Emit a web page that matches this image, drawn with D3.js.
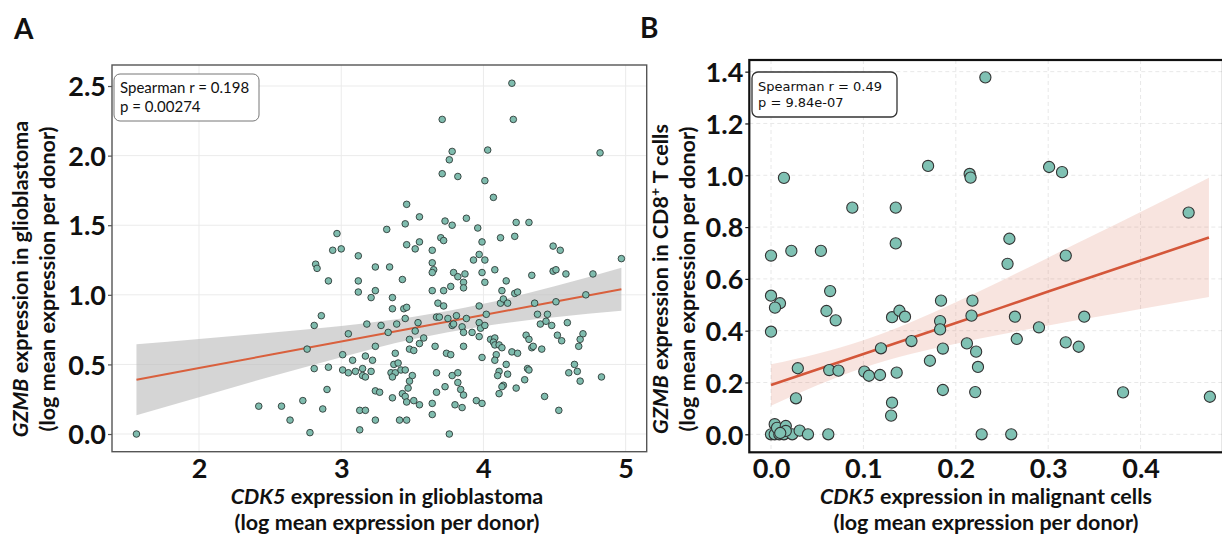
<!DOCTYPE html>
<html lang="en">
<head>
<meta charset="utf-8">
<title>GZMB vs CDK5 expression</title>
<script src="https://d3js.org/d3.v7.min.js"></script>
<style>
  body { margin: 0; background: #fff; }
  svg text { font-family: Lato, "Open Sans", sans-serif; fill: #111; }
  .tick-label { font-size: 27px; font-weight: 700; }
  .axis-title { font-size: 21.5px; font-weight: 700; }
  .panel-letter { font-size: 28px; font-weight: 700; }
</style>
</head>
<body>
<script>

// ---- panel A : glioblastoma (per donor) ----
var aX = [4.20,3.71,4.21,3.78,4.03,3.76,4.82,3.71,3.82,4.01,4.07,3.73,3.78,3.88,3.96,4.23,4.32,3.70,3.72,3.99,
  4.12,4.22,3.64,3.93,3.97,4.01,4.49,4.54,3.64,3.65,3.64,3.79,3.82,3.87,3.86,3.86,3.99,4.01,4.08,4.16,
  4.13,4.22,4.24,4.34,4.49,4.51,4.58,3.64,3.72,3.77,3.68,3.72,3.97,4.12,4.14,4.17,4.36,4.51,3.46,3.55,
  3.45,3.32,2.97,2.94,3.00,3.46,3.55,3.52,3.12,2.82,2.83,3.24,3.34,2.91,3.12,3.43,3.12,3.24,3.21,3.36,
  3.36,3.44,3.46,2.86,2.81,3.18,3.28,3.39,3.45,3.54,3.05,3.33,3.52,3.58,2.76,3.24,3.48,3.55,3.38,3.48,
  3.51,3.01,3.17,3.08,3.22,2.81,2.91,3.01,3.05,3.10,3.15,3.15,3.17,3.21,3.37,3.40,3.35,3.38,3.36,3.42,
  3.45,3.50,3.48,3.47,2.90,3.24,3.27,3.43,3.36,3.45,3.46,3.51,3.55,2.73,2.87,3.13,3.17,2.64,3.24,3.41,
  3.46,2.78,3.13,3.67,3.69,3.75,3.81,3.88,4.02,3.78,3.79,3.85,3.97,3.98,4.01,4.38,4.45,4.40,4.44,4.48,
  3.86,3.92,3.97,4.30,4.32,4.52,4.55,4.05,4.08,4.07,4.08,4.11,4.13,3.66,3.86,4.34,4.35,4.41,3.74,3.77,
  3.99,4.09,4.20,4.24,4.08,4.16,4.31,4.32,3.67,3.78,3.82,4.11,4.10,4.17,4.60,3.82,3.73,4.14,4.13,4.29,
  4.23,3.67,3.84,3.86,4.11,3.95,3.99,4.43,3.64,3.80,3.85,4.53,3.64,3.76,4.77,4.97,4.72,4.59,4.70,4.68,
  4.67,4.64,4.66,4.83,4.68,1.56,2.42,2.58];
var aY = [2.52,2.26,2.26,2.03,2.04,1.97,2.02,1.87,1.85,1.82,1.70,1.53,1.50,1.55,1.48,1.52,1.52,1.41,1.39,1.38,
  1.41,1.42,1.32,1.25,1.29,1.25,1.35,1.32,1.23,1.18,1.16,1.16,1.13,1.15,1.09,1.05,1.16,1.09,1.18,1.10,
  1.03,1.01,1.02,1.14,1.17,1.18,1.15,1.03,1.03,1.06,0.94,0.92,0.92,0.94,0.97,0.94,0.94,0.95,1.65,1.56,
  1.51,1.47,1.44,1.32,1.33,1.36,1.38,1.33,1.28,1.22,1.19,1.20,1.20,1.10,1.10,1.11,1.02,1.03,0.98,0.98,
  0.90,0.90,0.91,0.85,0.78,0.79,0.78,0.79,0.83,0.80,0.72,0.73,0.74,0.69,0.61,0.63,0.68,0.65,0.58,0.61,
  0.60,0.57,0.56,0.53,0.53,0.47,0.48,0.46,0.44,0.45,0.47,0.42,0.41,0.45,0.50,0.51,0.44,0.44,0.41,0.46,
  0.46,0.42,0.38,0.33,0.32,0.31,0.30,0.29,0.26,0.27,0.23,0.24,0.21,0.24,0.18,0.17,0.17,0.10,0.10,0.10,
  0.10,0.01,0.03,0.84,0.84,0.83,0.85,0.83,0.86,0.78,0.79,0.77,0.80,0.76,0.78,0.86,0.86,0.79,0.81,0.78,
  0.73,0.73,0.70,0.71,0.68,0.71,0.67,0.68,0.69,0.66,0.64,0.64,0.62,0.63,0.63,0.62,0.63,0.61,0.58,0.57,
  0.55,0.57,0.59,0.58,0.53,0.50,0.47,0.46,0.44,0.42,0.44,0.45,0.42,0.43,0.44,0.37,0.34,0.35,0.34,0.39,
  0.33,0.30,0.32,0.28,0.29,0.24,0.22,0.27,0.22,0.21,0.19,0.17,0.14,0.00,1.15,1.26,1.00,0.80,0.72,0.68,
  0.63,0.50,0.45,0.41,0.38,0.00,0.20,0.20];
// fitted line and 95% band
var aFitX  = [1.56, 2.0, 2.5, 3.0, 3.5, 4.0, 4.5, 4.97];
var aFitY  = [0.39, 0.474, 0.569, 0.664, 0.76, 0.855, 0.95, 1.04];
var aFitLo = [0.135, 0.265, 0.411, 0.552, 0.68, 0.775, 0.838, 0.885];
var aFitHi = [0.645, 0.683, 0.727, 0.776, 0.84, 0.935, 1.062, 1.195];
var aXTicks = [2, 3, 4, 5];
var aYTicks = [0, 0.5, 1.0, 1.5, 2.0, 2.5];
var aStats = ["Spearman r = 0.198", "p = 0.00274"];

// ---- panel B : malignant cells vs CD8+ T cells ----
var bX = [0.014,0.088,0.135,0.135,0.170,0.0,0.022,0.054,0.232,0.215,0.216,0.301,0.315,0.452,0.258,0.319,0.256,
  0.0,0.0097,0.0043,0.0,0.064,0.060,0.070,0.029,0.063,0.073,0.027,0.101,0.106,0.118,0.119,0.131,0.139,0.145,
  0.152,0.136,0.131,0.130,0.172,0.184,0.218,0.183,0.183,0.217,0.264,0.339,0.290,0.266,0.212,0.222,0.319,
  0.333,0.186,0.224,0.186,0.221,0.381,0.475,0.228,0.260,
  0.0,0.004,0.009,0.014,0.023,0.031,0.040,0.062,0.004,0.0065,0.016,0.016,0.010];
var bY = [0.99,0.875,0.875,0.737,1.036,0.69,0.708,0.708,1.378,1.005,0.991,1.032,1.012,0.856,0.755,0.69,0.658,
  0.535,0.506,0.489,0.396,0.553,0.476,0.44,0.255,0.248,0.246,0.139,0.242,0.226,0.229,0.332,0.452,0.477,0.454,
  0.36,0.238,0.122,0.072,0.284,0.516,0.516,0.437,0.405,0.458,0.454,0.454,0.413,0.368,0.351,0.319,0.355,
  0.338,0.331,0.26,0.171,0.163,0.162,0.145,0.0,0.0,
  0.0,0.0,0.0,0.0,0.0,0.014,0.0,0.0,0.039,0.025,0.032,0.013,0.005];
var bFitX  = [0, 0.05, 0.1, 0.15, 0.2, 0.25, 0.3, 0.35, 0.4, 0.474];
var bFitY  = [0.19, 0.25, 0.31, 0.37, 0.43, 0.49, 0.551, 0.611, 0.671, 0.76];
var bFitLo = [0.11, 0.189, 0.257, 0.309, 0.35, 0.386, 0.42, 0.452, 0.484, 0.53];
var bFitHi = [0.27, 0.311, 0.363, 0.431, 0.51, 0.594, 0.682, 0.77, 0.858, 0.99];
var bXTicks = [0, 0.1, 0.2, 0.3, 0.4];
var bYTicks = [0, 0.2, 0.4, 0.6, 0.8, 1.0, 1.2, 1.4];
var bStats = ["Spearman r = 0.49", "p = 9.84e-07"];

var width = 1222, height = 536;

var svg = d3.select("body").append("svg")
    .attr("width", width)
    .attr("height", height);

// scales
var xA = d3.scaleLinear().domain([1.388, 5.148]).range([112, 646.7]);
var yA = d3.scaleLinear().domain([-0.127, 2.651]).range([451.7, 65]);
var xB = d3.scaleLinear().domain([-0.0235, 0.4892]).range([749.3, 1223]);
var yB = d3.scaleLinear().domain([-0.0695, 1.445]).range([452.3, 60]);

function drawPanel(o) {
    var g = svg.append("g");
    var x = o.x, y = o.y;
    var x0 = x.range()[0], x1 = x.range()[1];
    var y0 = y.range()[0], y1 = y.range()[1];

    // grid
    g.selectAll(".gx").data(o.xTicks).enter().append("line")
        .attr("x1", d => x(d)).attr("x2", d => x(d))
        .attr("y1", y1).attr("y2", y0)
        .attr("stroke", o.gridColor).attr("stroke-width", 1)
        .attr("stroke-dasharray", o.gridDash);
    g.selectAll(".gy").data(o.yTicks).enter().append("line")
        .attr("x1", x0).attr("x2", x1)
        .attr("y1", d => y(d)).attr("y2", d => y(d))
        .attr("stroke", o.gridColor).attr("stroke-width", 1)
        .attr("stroke-dasharray", o.gridDash);

    // confidence band
    var band = d3.area()
        .x((d, i) => x(o.fitX[i]))
        .y0((d, i) => y(o.fitLo[i]))
        .y1((d, i) => y(o.fitHi[i]))
        .curve(d3.curveMonotoneX);
    g.append("path").datum(o.fitX)
        .attr("d", band)
        .attr("fill", o.bandColor);

    // fit line
    var line = d3.line()
        .x((d, i) => x(o.fitX[i]))
        .y((d, i) => y(o.fitY[i]));
    g.append("path").datum(o.fitX)
        .attr("d", line)
        .attr("fill", "none")
        .attr("stroke", o.lineColor)
        .attr("stroke-width", o.lineWidth);

    // points
    g.selectAll(".pt").data(o.px).enter().append("circle")
        .attr("cx", d => x(d))
        .attr("cy", (d, i) => y(o.py[i]))
        .attr("r", o.r)
        .attr("fill", o.pointColor)
        .attr("stroke", o.pointStroke)
        .attr("stroke-width", o.pointStrokeW);

    // frame
    g.append("rect")
        .attr("x", x0).attr("y", y1)
        .attr("width", x1 - x0).attr("height", y0 - y1)
        .attr("fill", "none")
        .attr("stroke", o.frameColor)
        .attr("stroke-width", o.frameWidth);

    // axes
    var yAxis = g.append("g")
        .attr("transform", "translate(" + x0 + ",0)")
        .call(d3.axisLeft(y).tickValues(o.yTicks).tickFormat(d3.format(".1f")).tickSize(4).tickPadding(2));
    var xAxis = g.append("g")
        .attr("transform", "translate(0," + y0 + ")")
        .call(d3.axisBottom(x).tickValues(o.xTicks).tickFormat(o.xFormat).tickSize(0).tickPadding(7));
    [xAxis, yAxis].forEach(function(ax) {
        ax.select(".domain").remove();
        ax.selectAll(".tick line").attr("stroke", o.frameColor).attr("stroke-width", 1.2);
        ax.selectAll(".tick text").attr("class", "tick-label").attr("fill", "#111");
    });
    yAxis.selectAll(".tick text").attr("dy", "0.36em");

    // stats box
    var sb = g.append("g");
    sb.append("rect")
        .attr("x", o.box[0]).attr("y", o.box[1])
        .attr("width", o.box[2]).attr("height", o.box[3])
        .attr("rx", 6)
        .attr("fill", "#fff")
        .attr("stroke", o.boxStroke)
        .attr("stroke-width", o.boxStrokeW);
    sb.selectAll("text").data(o.stats).enter().append("text")
        .attr("x", o.box[0] + 6)
        .attr("y", (d, i) => o.box[1] + o.boxLine0 + i * o.boxLineGap)
        .style("font-family", o.boxFont)
        .style("font-size", o.boxFontSize + "px")
        .text(d => d);
}

drawPanel({
    x: xA, y: yA, xTicks: aXTicks, yTicks: aYTicks, xFormat: d3.format("d"),
    px: aX, py: aY, r: 3.3, pointColor: "#7fbcae", pointStroke: "#2f3b38", pointStrokeW: 0.9,
    fitX: aFitX, fitY: aFitY, fitLo: aFitLo, fitHi: aFitHi,
    bandColor: "rgba(190,190,190,0.65)", lineColor: "#d9603d", lineWidth: 2,
    gridColor: "#ebebeb", gridDash: null,
    frameColor: "#555", frameWidth: 1.4,
    box: [114, 74, 145, 47], boxStroke: "#777", boxStrokeW: 1, boxFont: "Lato, sans-serif",
    boxFontSize: 15, boxLine0: 19, boxLineGap: 19, stats: aStats
});

drawPanel({
    x: xB, y: yB, xTicks: bXTicks, yTicks: bYTicks, xFormat: d3.format(".1f"),
    px: bX, py: bY, r: 5.6, pointColor: "#7fc1b3", pointStroke: "#333", pointStrokeW: 1.1,
    fitX: bFitX, fitY: bFitY, fitLo: bFitLo, fitHi: bFitHi,
    bandColor: "rgba(222,120,95,0.2)", lineColor: "#d4573a", lineWidth: 2.6,
    gridColor: "#e8e8e8", gridDash: "4,3",
    frameColor: "#111", frameWidth: 2.2,
    box: [752, 72, 145, 45], boxStroke: "#333", boxStrokeW: 1.3, boxFont: "'DejaVu Sans', sans-serif",
    boxFontSize: 13, boxLine0: 19, boxLineGap: 15.5, stats: bStats
});

// panel letters
svg.append("text").attr("class", "panel-letter").attr("x", 14).attr("y", 39).text("A");
svg.append("text").attr("class", "panel-letter").attr("x", 640).attr("y", 38).text("B");

// axis titles
function xTitle(cx, gene, rest) {
    var t = svg.append("text").attr("class", "axis-title").attr("text-anchor", "middle");
    var l1 = t.append("tspan").attr("x", cx).attr("y", 504);
    l1.append("tspan").style("font-style", "italic").text(gene);
    l1.append("tspan").text(rest);
    t.append("tspan").attr("x", cx).attr("y", 530).text("(log mean expression per donor)");
}
xTitle(387, "CDK5", " expression in glioblastoma");
xTitle(986, "CDK5", " expression in malignant cells");

function yTitle(bx, cy, build) {
    var t = svg.append("text").attr("class", "axis-title")
        .attr("text-anchor", "middle")
        .attr("transform", "translate(" + bx + "," + cy + ") rotate(-90)");
    var l1 = t.append("tspan").attr("x", 0).attr("y", 0);
    build(l1);
    t.append("tspan").attr("x", 0).attr("y", 27).text("(log mean expression per donor)");
}
yTitle(28, 279, function(l) {
    l.append("tspan").style("font-style", "italic").text("GZMB");
    l.append("tspan").text(" expression in glioblastoma");
});
yTitle(668, 279, function(l) {
    l.append("tspan").style("font-style", "italic").text("GZMB");
    l.append("tspan").text(" expression in CD8");
    l.append("tspan").attr("dy", -8).style("font-size", "14px").text("+");
    l.append("tspan").attr("dy", 8).text(" T cells");
});

</script>
</body>
</html>
